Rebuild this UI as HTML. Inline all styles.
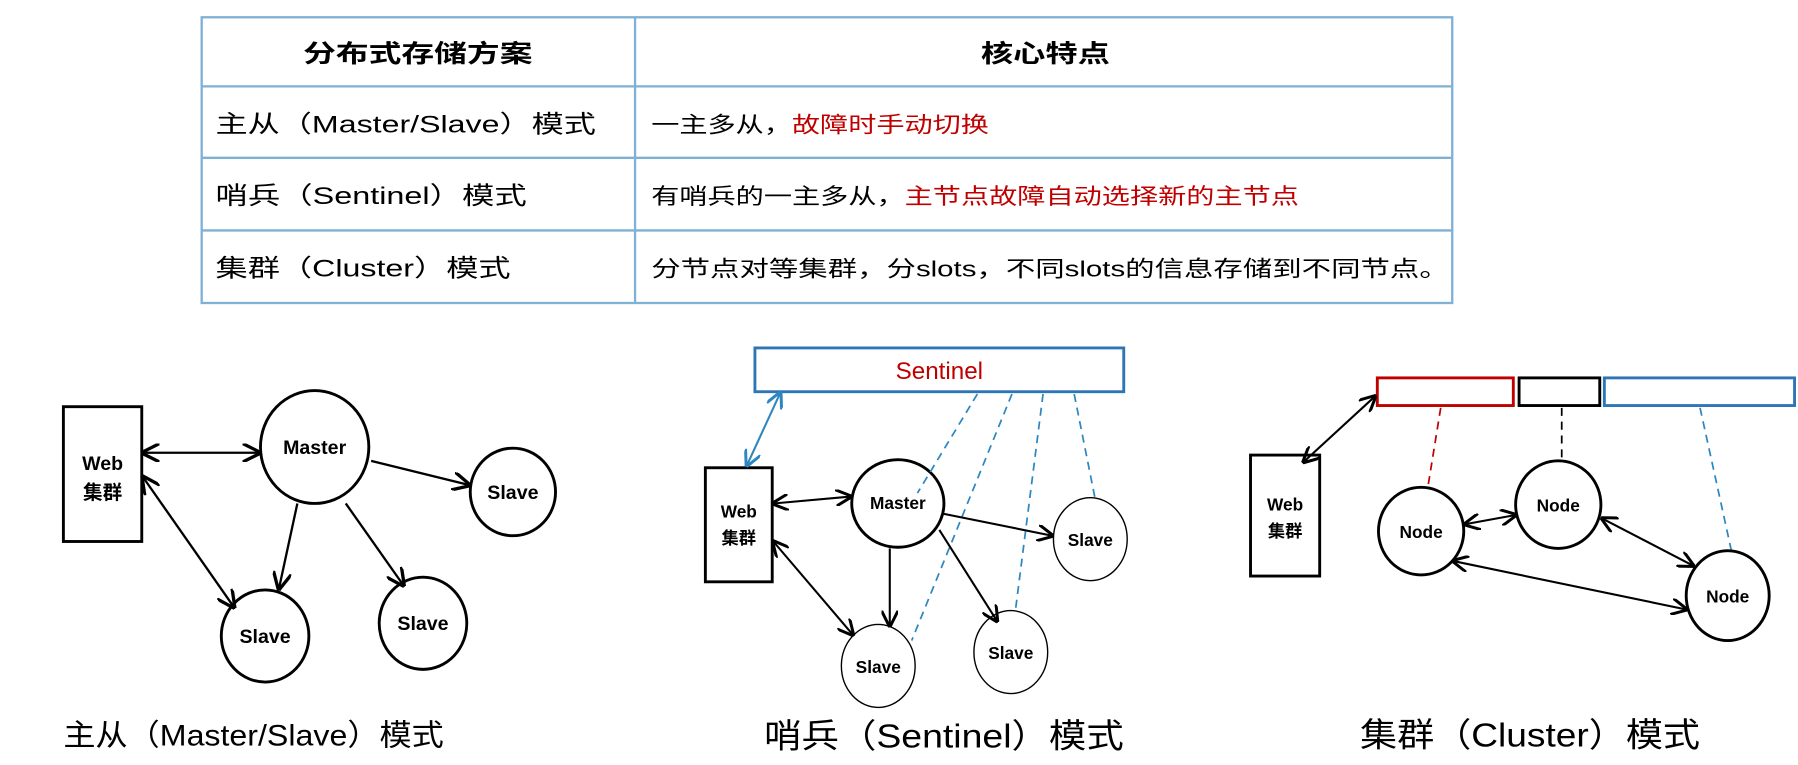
<!DOCTYPE html>
<html><head><meta charset="utf-8"><style>
html,body{margin:0;padding:0;background:#fff;}
svg{display:block;}
text{font-family:"Liberation Sans","Noto Sans CJK SC",sans-serif;}
</style></head><body>
<svg width="1798" height="765" viewBox="0 0 1560 664" preserveAspectRatio="none" xmlns="http://www.w3.org/2000/svg">
<defs>
<marker id="a" viewBox="0 0 10 10" refX="9" refY="5" markerWidth="8" markerHeight="8" orient="auto-start-reverse"><path d="M0,0 L10,5 L0,10" fill="none" stroke="#000" stroke-width="1.8"/></marker>
<marker id="b" viewBox="0 0 10 10" refX="9" refY="5" markerWidth="8" markerHeight="8" orient="auto-start-reverse"><path d="M0,0 L10,5 L0,10" fill="none" stroke="#2e86c1" stroke-width="1.8"/></marker>
</defs>
<g stroke="#7fb0d6" stroke-width="2" fill="none">
<rect x="175" y="15" width="1085" height="248"/>
<line x1="551" y1="15" x2="551" y2="263"/>
<line x1="175" y1="75" x2="1260" y2="75"/>
<line x1="175" y1="137" x2="1260" y2="137"/>
<line x1="175" y1="200" x2="1260" y2="200"/>
</g>
<g font-size="21" fill="#000">
<text x="263" y="54" font-weight="bold" textLength="199" lengthAdjust="spacingAndGlyphs">分布式存储方案</text>
<text x="851" y="54" font-weight="bold" textLength="112" lengthAdjust="spacingAndGlyphs">核心特点</text>
<text x="187" y="115" textLength="330" lengthAdjust="spacingAndGlyphs">主从（Master/Slave）模式</text>
<text x="187" y="177" textLength="270" lengthAdjust="spacingAndGlyphs">哨兵（Sentinel）模式</text>
<text x="187" y="240" textLength="256" lengthAdjust="spacingAndGlyphs">集群（Cluster）模式</text>
</g>
<g font-size="19" fill="#000">
<text x="565" y="115" textLength="293" lengthAdjust="spacingAndGlyphs">一主多从，<tspan fill="#c00000">故障时手动切换</tspan></text>
<text x="565" y="177" textLength="562" lengthAdjust="spacingAndGlyphs">有哨兵的一主多从，<tspan fill="#c00000">主节点故障自动选择新的主节点</tspan></text>
<text x="565" y="240" textLength="692" lengthAdjust="spacingAndGlyphs">分节点对等集群，分slots，不同slots的信息存储到不同节点。</text>
</g>
<g stroke="#000" fill="#fff" stroke-width="2.5">
<rect x="55" y="353" width="68" height="117"/>
<ellipse cx="273" cy="388" rx="47" ry="49"/>
<ellipse cx="445" cy="427" rx="37" ry="38"/>
<ellipse cx="230" cy="552" rx="38" ry="40"/>
<ellipse cx="367" cy="541" rx="38" ry="40"/>
</g>
<g stroke="#000" stroke-width="2" fill="none">
<line x1="124" y1="393" x2="225" y2="393" marker-start="url(#a)" marker-end="url(#a)"/>
<line x1="322" y1="400" x2="407" y2="421" marker-end="url(#a)"/>
<line x1="258" y1="437" x2="242" y2="511" marker-end="url(#a)"/>
<line x1="300" y1="437" x2="350" y2="508" marker-end="url(#a)"/>
<line x1="124" y1="414" x2="203" y2="527" marker-start="url(#a)" marker-end="url(#a)"/>
</g>
<g font-weight="bold" font-size="17" text-anchor="middle" fill="#000">
<text x="89" y="408">Web</text><text x="89" y="433">集群</text>
<text x="273" y="394">Master</text>
<text x="445" y="433">Slave</text>
<text x="230" y="558">Slave</text>
<text x="367" y="547">Slave</text>
</g>
<text x="55" y="647" font-size="26" textLength="330" lengthAdjust="spacingAndGlyphs">主从（Master/Slave）模式</text>
<rect x="655" y="302" width="320" height="38" fill="#fff" stroke="#2e75b6" stroke-width="2.5"/>
<text x="815" y="329" font-size="21" fill="#c00000" text-anchor="middle">Sentinel</text>
<g stroke="#000" fill="#fff">
<rect x="612" y="406" width="58" height="99" stroke-width="2.5"/>
<ellipse cx="779" cy="437" rx="40" ry="38" stroke-width="2.5"/>
<ellipse cx="946" cy="468" rx="32" ry="36" stroke-width="1.2"/>
<ellipse cx="762" cy="578" rx="32" ry="36" stroke-width="1.2"/>
<ellipse cx="877" cy="566" rx="32" ry="36" stroke-width="1.2"/>
</g>
<g stroke="#2e86c1" stroke-width="1.5" stroke-dasharray="7,5" fill="none">
<line x1="848" y1="342" x2="796" y2="428"/>
<line x1="878" y1="342" x2="791" y2="556"/>
<line x1="905" y1="342" x2="881" y2="530"/>
<line x1="932" y1="342" x2="950" y2="432"/>
</g>
<line x1="677" y1="341" x2="648" y2="404" stroke="#2e86c1" stroke-width="1.8" marker-start="url(#b)" marker-end="url(#b)"/>
<g stroke="#000" stroke-width="1.8" fill="none">
<line x1="671" y1="437" x2="738" y2="431" marker-start="url(#a)" marker-end="url(#a)"/>
<line x1="819" y1="446" x2="913" y2="465" marker-end="url(#a)"/>
<line x1="772" y1="476" x2="772" y2="543" marker-end="url(#a)"/>
<line x1="815" y1="460" x2="865" y2="539" marker-end="url(#a)"/>
<line x1="671" y1="470" x2="740" y2="551" marker-start="url(#a)" marker-end="url(#a)"/>
</g>
<g font-weight="bold" font-size="15" text-anchor="middle" fill="#000">
<text x="641" y="449">Web</text><text x="641" y="472">集群</text>
<text x="779" y="442">Master</text>
<text x="946" y="474">Slave</text>
<text x="762" y="584">Slave</text>
<text x="877" y="572">Slave</text>
</g>
<text x="663" y="649" font-size="29" textLength="312" lengthAdjust="spacingAndGlyphs">哨兵（Sentinel）模式</text>
<rect x="1195" y="328" width="118" height="24" fill="#fff" stroke="#c00000" stroke-width="2.5"/>
<rect x="1318" y="328" width="70" height="24" fill="#fff" stroke="#000" stroke-width="2.5"/>
<rect x="1392" y="328" width="165" height="24" fill="#fff" stroke="#2e75b6" stroke-width="2.5"/>
<g stroke="#000" fill="#fff" stroke-width="2.5">
<rect x="1085" y="395" width="60" height="105"/>
<ellipse cx="1233" cy="461" rx="37" ry="38"/>
<ellipse cx="1352" cy="438" rx="37" ry="38"/>
<ellipse cx="1499" cy="517" rx="36" ry="39"/>
</g>
<g stroke-width="1.5" stroke-dasharray="7,5" fill="none">
<line x1="1250" y1="354" x2="1239" y2="422" stroke="#c00000"/>
<line x1="1355" y1="354" x2="1355" y2="399" stroke="#000"/>
<line x1="1475" y1="354" x2="1502" y2="477" stroke="#2e86c1"/>
</g>
<g stroke="#000" stroke-width="1.8" fill="none">
<line x1="1193" y1="344" x2="1131" y2="401" marker-start="url(#a)" marker-end="url(#a)"/>
<line x1="1271" y1="455" x2="1315" y2="447" marker-start="url(#a)" marker-end="url(#a)"/>
<line x1="1390" y1="450" x2="1469" y2="491" marker-start="url(#a)" marker-end="url(#a)"/>
<line x1="1261" y1="487" x2="1463" y2="529" marker-start="url(#a)" marker-end="url(#a)"/>
</g>
<g font-weight="bold" font-size="15" text-anchor="middle" fill="#000">
<text x="1115" y="443">Web</text><text x="1115" y="466">集群</text>
<text x="1233" y="467">Node</text>
<text x="1352" y="444">Node</text>
<text x="1499" y="523">Node</text>
</g>
<text x="1180" y="648" font-size="29" textLength="295" lengthAdjust="spacingAndGlyphs">集群（Cluster）模式</text>
</svg>
</body></html>
